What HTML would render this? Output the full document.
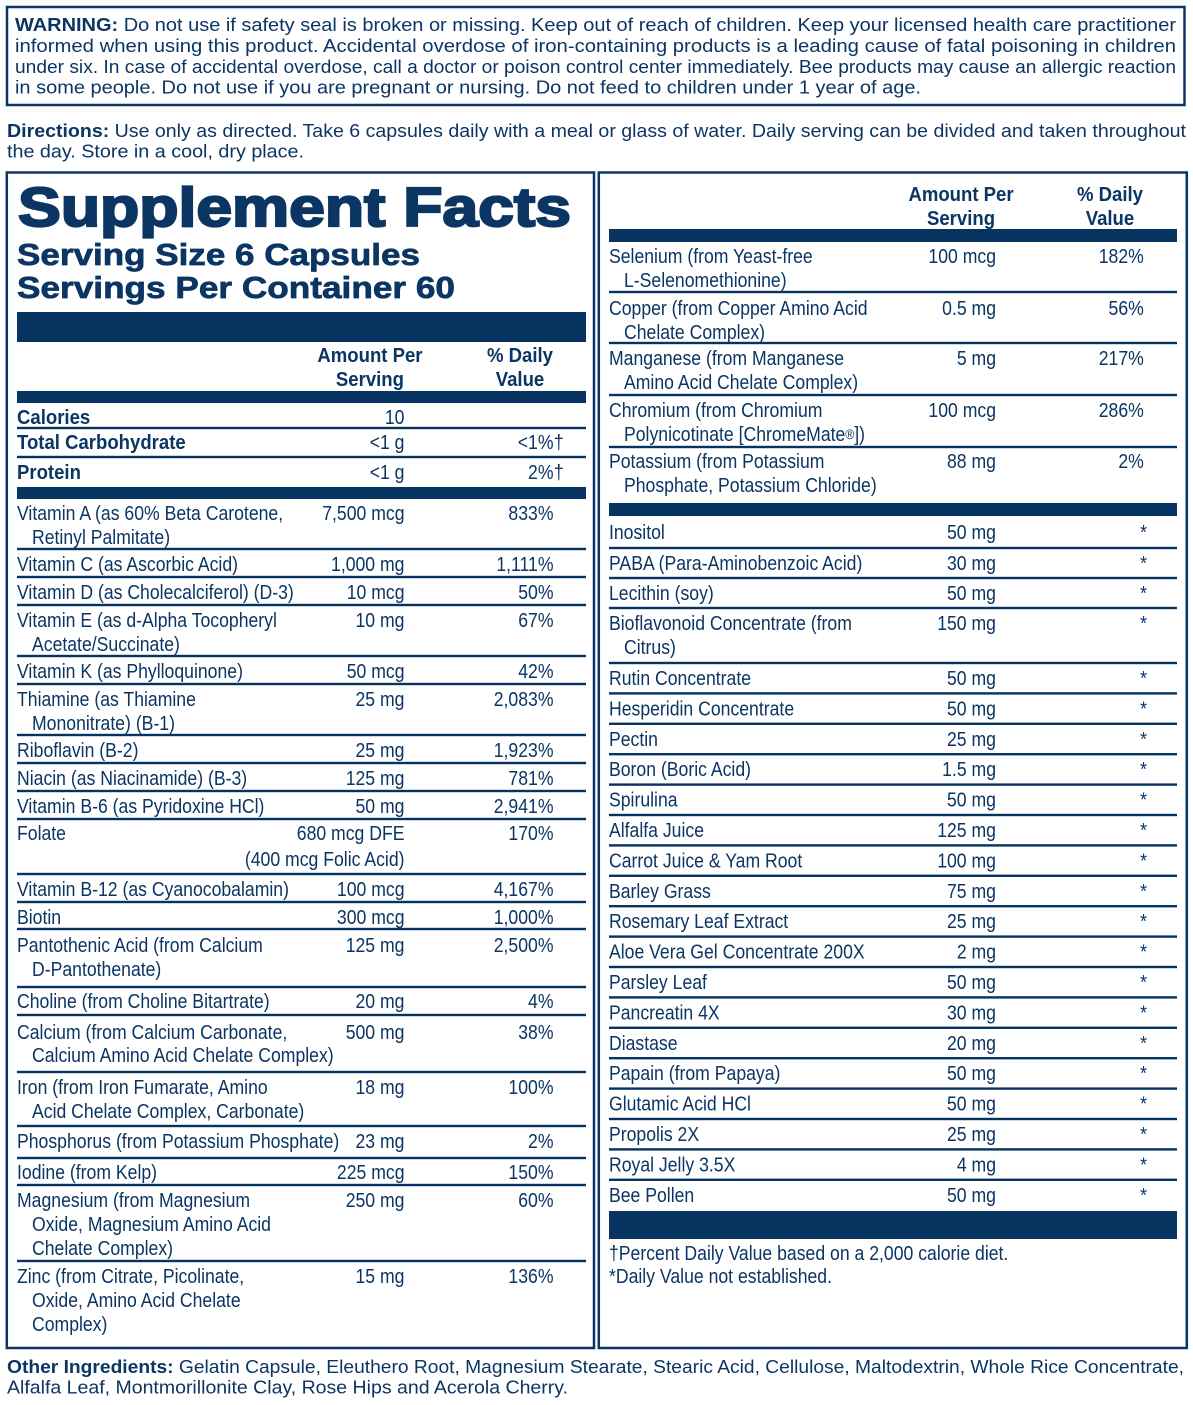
<!DOCTYPE html>
<html>
<head>
<meta charset="utf-8">
<style>
html,body{margin:0;padding:0;background:#fff;}
svg{display:block;}
text{font-family:"Liberation Sans",Arial,sans-serif;fill:#0b3563;}
.p{font-size:18px;}
.t{font-size:20.5px;}
.b{font-weight:bold;}
</style>
</head>
<body>
<svg width="1193" height="1405" viewBox="0 0 1193 1405" xmlns="http://www.w3.org/2000/svg">
<rect x="0" y="0" width="1193" height="1405" fill="#fff"/>

<!-- Warning box -->
<rect x="7" y="7" width="1177.5" height="98" fill="none" stroke="#0b3563" stroke-width="2.5"/>
<text class="p" x="15" y="31" textLength="1161" lengthAdjust="spacingAndGlyphs"><tspan class="b">WARNING:</tspan> Do not use if safety seal is broken or missing. Keep out of reach of children. Keep your licensed health care practitioner</text>
<text class="p" x="15" y="52" textLength="1161" lengthAdjust="spacingAndGlyphs">informed when using this product. Accidental overdose of iron-containing products is a leading cause of fatal poisoning in children</text>
<text class="p" x="15" y="73" textLength="1161" lengthAdjust="spacingAndGlyphs">under six.  In case of accidental overdose, call a doctor or poison control center immediately. Bee products may cause an allergic reaction</text>
<text class="p" x="15" y="93.5" textLength="906" lengthAdjust="spacingAndGlyphs">in some people. Do not use if you are pregnant or nursing. Do not feed to children under 1 year of age.</text>

<!-- Directions -->
<text class="p" x="7" y="137" textLength="1179" lengthAdjust="spacingAndGlyphs"><tspan class="b">Directions:</tspan> Use only as directed. Take 6 capsules daily with a meal or glass of water. Daily serving can be divided and taken throughout</text>
<text class="p" x="7" y="157.5" textLength="297" lengthAdjust="spacingAndGlyphs">the day. Store in a cool, dry place.</text>

<!-- Panels -->
<rect x="6.8" y="172.5" width="587.2" height="1175.5" fill="none" stroke="#0b3563" stroke-width="2.5"/>
<rect x="598.8" y="172.5" width="588" height="1175.5" fill="none" stroke="#0b3563" stroke-width="2.5"/>

<!-- Left title -->
<text x="18" y="226" font-size="55" font-weight="bold" stroke="#0b3563" stroke-width="2.2" textLength="553" lengthAdjust="spacingAndGlyphs">Supplement Facts</text>
<text x="17" y="265" font-size="31" font-weight="bold" stroke="#0b3563" stroke-width="0.7" textLength="403" lengthAdjust="spacingAndGlyphs">Serving Size 6 Capsules</text>
<text x="17" y="298" font-size="31" font-weight="bold" stroke="#0b3563" stroke-width="0.7" textLength="438" lengthAdjust="spacingAndGlyphs">Servings Per Container 60</text>

<!-- Bars and rules (fill) -->
<g fill="#06335f">
  <!-- left -->
  <rect x="17" y="312" width="569" height="30"/>
  <rect x="17" y="391" width="569" height="12"/>
  <rect x="17" y="487" width="569" height="12"/>
  <rect x="17" y="426.8" width="569" height="2.4"/>
  <rect x="17" y="455.8" width="569" height="2.4"/>
  <rect x="17" y="547.8" width="569" height="2.4"/>
  <rect x="17" y="575.8" width="569" height="2.4"/>
  <rect x="17" y="603.8" width="569" height="2.4"/>
  <rect x="17" y="654.8" width="569" height="2.4"/>
  <rect x="17" y="682.8" width="569" height="2.4"/>
  <rect x="17" y="733.8" width="569" height="2.4"/>
  <rect x="17" y="761.8" width="569" height="2.4"/>
  <rect x="17" y="789.8" width="569" height="2.4"/>
  <rect x="17" y="817.8" width="569" height="2.4"/>
  <rect x="17" y="872.8" width="569" height="2.4"/>
  <rect x="17" y="900.8" width="569" height="2.4"/>
  <rect x="17" y="927.8" width="569" height="2.4"/>
  <rect x="17" y="985.8" width="569" height="2.4"/>
  <rect x="17" y="1013.8" width="569" height="2.4"/>
  <rect x="17" y="1070.8" width="569" height="2.4"/>
  <rect x="17" y="1124.8" width="569" height="2.4"/>
  <rect x="17" y="1156.8" width="569" height="2.4"/>
  <rect x="17" y="1183.8" width="569" height="2.4"/>
  <rect x="17" y="1259.8" width="569" height="2.4"/>
  <!-- right -->
  <rect x="609" y="229" width="568" height="13"/>
  <rect x="609" y="503" width="568" height="13"/>
  <rect x="609" y="1211" width="568" height="28"/>
  <rect x="609" y="290.8" width="568" height="2.4"/>
  <rect x="609" y="341.8" width="568" height="2.4"/>
  <rect x="609" y="393.8" width="568" height="2.4"/>
  <rect x="609" y="445.8" width="568" height="2.4"/>
  <rect x="609" y="546.8" width="568" height="2.4"/>
  <rect x="609" y="576.8" width="568" height="2.4"/>
  <rect x="609" y="606.8" width="568" height="2.4"/>
  <rect x="609" y="661.8" width="568" height="2.4"/>
  <rect x="609" y="692.2" width="568" height="2.4"/>
  <rect x="609" y="722.6" width="568" height="2.4"/>
  <rect x="609" y="753" width="568" height="2.4"/>
  <rect x="609" y="783.4" width="568" height="2.4"/>
  <rect x="609" y="813.8" width="568" height="2.4"/>
  <rect x="609" y="844.2" width="568" height="2.4"/>
  <rect x="609" y="874.6" width="568" height="2.4"/>
  <rect x="609" y="905" width="568" height="2.4"/>
  <rect x="609" y="935.4" width="568" height="2.4"/>
  <rect x="609" y="965.8" width="568" height="2.4"/>
  <rect x="609" y="996.2" width="568" height="2.4"/>
  <rect x="609" y="1026.6" width="568" height="2.4"/>
  <rect x="609" y="1057" width="568" height="2.4"/>
  <rect x="609" y="1087.4" width="568" height="2.4"/>
  <rect x="609" y="1117.8" width="568" height="2.4"/>
  <rect x="609" y="1148.2" width="568" height="2.4"/>
  <rect x="609" y="1178.6" width="568" height="2.4"/>
</g>

<!-- Bold condensed text -->
<g transform="scale(0.905,1)">
  <text class="t b" x="408.8" y="362" text-anchor="middle">Amount Per</text>
  <text class="t b" x="408.8" y="386" text-anchor="middle">Serving</text>
  <text class="t b" x="574.6" y="362" text-anchor="middle">% Daily</text>
  <text class="t b" x="574.6" y="386" text-anchor="middle">Value</text>
  <text class="t b" x="1061.9" y="201" text-anchor="middle">Amount Per</text>
  <text class="t b" x="1061.9" y="225" text-anchor="middle">Serving</text>
  <text class="t b" x="1226.5" y="201" text-anchor="middle">% Daily</text>
  <text class="t b" x="1226.5" y="225" text-anchor="middle">Value</text>
  <text class="t b" x="18.8" y="424">Calories</text>
  <text class="t b" x="18.8" y="449">Total Carbohydrate</text>
  <text class="t b" x="18.8" y="479">Protein</text>
</g>

<!-- Regular condensed text -->
<g transform="scale(0.86,1)" class="t">
  <text class="t" x="470.35" y="424" text-anchor="end">10</text>
  <text class="t" x="470.35" y="449" text-anchor="end">&lt;1 g</text>
  <text class="t" x="643.6" y="449" text-anchor="end">&lt;1%</text>
  <text class="t" x="644" y="449">†</text>
  <text class="t" x="470.35" y="479" text-anchor="end">&lt;1 g</text>
  <text class="t" x="643.6" y="479" text-anchor="end">2%</text>
  <text class="t" x="644" y="479">†</text>

  <text class="t" x="19.77" y="520">Vitamin A (as 60% Beta Carotene,</text>
  <text class="t" x="37.21" y="544">Retinyl Palmitate)</text>
  <text class="t" x="470.35" y="520" text-anchor="end">7,500 mcg</text>
  <text class="t" x="643.6" y="520" text-anchor="end">833%</text>

  <text class="t" x="19.77" y="571">Vitamin C (as Ascorbic Acid)</text>
  <text class="t" x="470.35" y="571" text-anchor="end">1,000 mg</text>
  <text class="t" x="643.6" y="571" text-anchor="end">1,111%</text>

  <text class="t" x="19.77" y="599">Vitamin D (as Cholecalciferol) (D-3)</text>
  <text class="t" x="470.35" y="599" text-anchor="end">10 mcg</text>
  <text class="t" x="643.6" y="599" text-anchor="end">50%</text>

  <text class="t" x="19.77" y="627">Vitamin E (as d-Alpha Tocopheryl</text>
  <text class="t" x="37.21" y="651">Acetate/Succinate)</text>
  <text class="t" x="470.35" y="627" text-anchor="end">10 mg</text>
  <text class="t" x="643.6" y="627" text-anchor="end">67%</text>

  <text class="t" x="19.77" y="678">Vitamin K (as Phylloquinone)</text>
  <text class="t" x="470.35" y="678" text-anchor="end">50 mcg</text>
  <text class="t" x="643.6" y="678" text-anchor="end">42%</text>

  <text class="t" x="19.77" y="706">Thiamine (as Thiamine</text>
  <text class="t" x="37.21" y="730">Mononitrate) (B-1)</text>
  <text class="t" x="470.35" y="706" text-anchor="end">25 mg</text>
  <text class="t" x="643.6" y="706" text-anchor="end">2,083%</text>

  <text class="t" x="19.77" y="757">Riboflavin (B-2)</text>
  <text class="t" x="470.35" y="757" text-anchor="end">25 mg</text>
  <text class="t" x="643.6" y="757" text-anchor="end">1,923%</text>

  <text class="t" x="19.77" y="785">Niacin (as Niacinamide) (B-3)</text>
  <text class="t" x="470.35" y="785" text-anchor="end">125 mg</text>
  <text class="t" x="643.6" y="785" text-anchor="end">781%</text>

  <text class="t" x="19.77" y="813">Vitamin B-6 (as Pyridoxine HCl)</text>
  <text class="t" x="470.35" y="813" text-anchor="end">50 mg</text>
  <text class="t" x="643.6" y="813" text-anchor="end">2,941%</text>

  <text class="t" x="19.77" y="840">Folate</text>
  <text class="t" x="470.35" y="840" text-anchor="end">680 mcg DFE</text>
  <text class="t" x="470.35" y="866" text-anchor="end">(400 mcg Folic Acid)</text>
  <text class="t" x="643.6" y="840" text-anchor="end">170%</text>

  <text class="t" x="19.77" y="896">Vitamin B-12 (as Cyanocobalamin)</text>
  <text class="t" x="470.35" y="896" text-anchor="end">100 mcg</text>
  <text class="t" x="643.6" y="896" text-anchor="end">4,167%</text>

  <text class="t" x="19.77" y="924">Biotin</text>
  <text class="t" x="470.35" y="924" text-anchor="end">300 mcg</text>
  <text class="t" x="643.6" y="924" text-anchor="end">1,000%</text>

  <text class="t" x="19.77" y="952">Pantothenic Acid (from Calcium</text>
  <text class="t" x="37.21" y="976">D-Pantothenate)</text>
  <text class="t" x="470.35" y="952" text-anchor="end">125 mg</text>
  <text class="t" x="643.6" y="952" text-anchor="end">2,500%</text>

  <text class="t" x="19.77" y="1008">Choline (from Choline Bitartrate)</text>
  <text class="t" x="470.35" y="1008" text-anchor="end">20 mg</text>
  <text class="t" x="643.6" y="1008" text-anchor="end">4%</text>

  <text class="t" x="19.77" y="1039">Calcium (from Calcium Carbonate,</text>
  <text class="t" x="37.21" y="1062">Calcium Amino Acid Chelate Complex)</text>
  <text class="t" x="470.35" y="1039" text-anchor="end">500 mg</text>
  <text class="t" x="643.6" y="1039" text-anchor="end">38%</text>

  <text class="t" x="19.77" y="1094">Iron (from Iron Fumarate, Amino</text>
  <text class="t" x="37.21" y="1118">Acid Chelate Complex, Carbonate)</text>
  <text class="t" x="470.35" y="1094" text-anchor="end">18 mg</text>
  <text class="t" x="643.6" y="1094" text-anchor="end">100%</text>

  <text class="t" x="19.77" y="1148">Phosphorus (from Potassium Phosphate)</text>
  <text class="t" x="470.35" y="1148" text-anchor="end">23 mg</text>
  <text class="t" x="643.6" y="1148" text-anchor="end">2%</text>

  <text class="t" x="19.77" y="1179">Iodine (from Kelp)</text>
  <text class="t" x="470.35" y="1179" text-anchor="end">225 mcg</text>
  <text class="t" x="643.6" y="1179" text-anchor="end">150%</text>

  <text class="t" x="19.77" y="1207">Magnesium (from Magnesium</text>
  <text class="t" x="37.21" y="1231">Oxide, Magnesium Amino Acid</text>
  <text class="t" x="37.21" y="1255">Chelate Complex)</text>
  <text class="t" x="470.35" y="1207" text-anchor="end">250 mg</text>
  <text class="t" x="643.6" y="1207" text-anchor="end">60%</text>

  <text class="t" x="19.77" y="1283">Zinc (from Citrate, Picolinate,</text>
  <text class="t" x="37.21" y="1307">Oxide, Amino Acid Chelate</text>
  <text class="t" x="37.21" y="1331">Complex)</text>
  <text class="t" x="470.35" y="1283" text-anchor="end">15 mg</text>
  <text class="t" x="643.6" y="1283" text-anchor="end">136%</text>

  <text class="t" x="708.14" y="263">Selenium (from Yeast-free</text>
  <text class="t" x="725.58" y="287">L-Selenomethionine)</text>
  <text class="t" x="1158.14" y="263" text-anchor="end">100 mcg</text>
  <text class="t" x="1330" y="263" text-anchor="end">182%</text>

  <text class="t" x="708.14" y="315">Copper (from Copper Amino Acid</text>
  <text class="t" x="725.58" y="339">Chelate Complex)</text>
  <text class="t" x="1158.14" y="315" text-anchor="end">0.5 mg</text>
  <text class="t" x="1330" y="315" text-anchor="end">56%</text>

  <text class="t" x="708.14" y="365">Manganese (from Manganese</text>
  <text class="t" x="725.58" y="389">Amino Acid Chelate Complex)</text>
  <text class="t" x="1158.14" y="365" text-anchor="end">5 mg</text>
  <text class="t" x="1330" y="365" text-anchor="end">217%</text>

  <text class="t" x="708.14" y="417">Chromium (from Chromium</text>
  <text class="t" x="725.58" y="441">Polynicotinate [ChromeMate<tspan font-size="14" dy="-2">®</tspan><tspan dy="2">])</tspan></text>
  <text class="t" x="1158.14" y="417" text-anchor="end">100 mcg</text>
  <text class="t" x="1330" y="417" text-anchor="end">286%</text>

  <text class="t" x="708.14" y="468">Potassium (from Potassium</text>
  <text class="t" x="725.58" y="492">Phosphate, Potassium Chloride)</text>
  <text class="t" x="1158.14" y="468" text-anchor="end">88 mg</text>
  <text class="t" x="1330" y="468" text-anchor="end">2%</text>

  <text class="t" x="708.14" y="539">Inositol</text>
  <text class="t" x="1158.14" y="539" text-anchor="end">50 mg</text>
  <text class="t" x="1333.7" y="539" text-anchor="end">*</text>

  <text class="t" x="708.14" y="570">PABA (Para-Aminobenzoic Acid)</text>
  <text class="t" x="1158.14" y="570" text-anchor="end">30 mg</text>
  <text class="t" x="1333.7" y="570" text-anchor="end">*</text>

  <text class="t" x="708.14" y="600">Lecithin (soy)</text>
  <text class="t" x="1158.14" y="600" text-anchor="end">50 mg</text>
  <text class="t" x="1333.7" y="600" text-anchor="end">*</text>

  <text class="t" x="708.14" y="630">Bioflavonoid Concentrate (from</text>
  <text class="t" x="725.58" y="654">Citrus)</text>
  <text class="t" x="1158.14" y="630" text-anchor="end">150 mg</text>
  <text class="t" x="1333.7" y="630" text-anchor="end">*</text>

  <text class="t" x="708.14" y="685">Rutin Concentrate</text>
  <text class="t" x="1158.14" y="685" text-anchor="end">50 mg</text>
  <text class="t" x="1333.7" y="685" text-anchor="end">*</text>

  <text class="t" x="708.14" y="715.4">Hesperidin Concentrate</text>
  <text class="t" x="1158.14" y="715.4" text-anchor="end">50 mg</text>
  <text class="t" x="1333.7" y="715.4" text-anchor="end">*</text>

  <text class="t" x="708.14" y="745.8">Pectin</text>
  <text class="t" x="1158.14" y="745.8" text-anchor="end">25 mg</text>
  <text class="t" x="1333.7" y="745.8" text-anchor="end">*</text>

  <text class="t" x="708.14" y="776.2">Boron (Boric Acid)</text>
  <text class="t" x="1158.14" y="776.2" text-anchor="end">1.5 mg</text>
  <text class="t" x="1333.7" y="776.2" text-anchor="end">*</text>

  <text class="t" x="708.14" y="806.6">Spirulina</text>
  <text class="t" x="1158.14" y="806.6" text-anchor="end">50 mg</text>
  <text class="t" x="1333.7" y="806.6" text-anchor="end">*</text>

  <text class="t" x="708.14" y="837">Alfalfa Juice</text>
  <text class="t" x="1158.14" y="837" text-anchor="end">125 mg</text>
  <text class="t" x="1333.7" y="837" text-anchor="end">*</text>

  <text class="t" x="708.14" y="867.4">Carrot Juice &amp; Yam Root</text>
  <text class="t" x="1158.14" y="867.4" text-anchor="end">100 mg</text>
  <text class="t" x="1333.7" y="867.4" text-anchor="end">*</text>

  <text class="t" x="708.14" y="897.8">Barley Grass</text>
  <text class="t" x="1158.14" y="897.8" text-anchor="end">75 mg</text>
  <text class="t" x="1333.7" y="897.8" text-anchor="end">*</text>

  <text class="t" x="708.14" y="928.2">Rosemary Leaf Extract</text>
  <text class="t" x="1158.14" y="928.2" text-anchor="end">25 mg</text>
  <text class="t" x="1333.7" y="928.2" text-anchor="end">*</text>

  <text class="t" x="708.14" y="958.6">Aloe Vera Gel Concentrate 200X</text>
  <text class="t" x="1158.14" y="958.6" text-anchor="end">2 mg</text>
  <text class="t" x="1333.7" y="958.6" text-anchor="end">*</text>

  <text class="t" x="708.14" y="989">Parsley Leaf</text>
  <text class="t" x="1158.14" y="989" text-anchor="end">50 mg</text>
  <text class="t" x="1333.7" y="989" text-anchor="end">*</text>

  <text class="t" x="708.14" y="1019.4">Pancreatin 4X</text>
  <text class="t" x="1158.14" y="1019.4" text-anchor="end">30 mg</text>
  <text class="t" x="1333.7" y="1019.4" text-anchor="end">*</text>

  <text class="t" x="708.14" y="1049.8">Diastase</text>
  <text class="t" x="1158.14" y="1049.8" text-anchor="end">20 mg</text>
  <text class="t" x="1333.7" y="1049.8" text-anchor="end">*</text>

  <text class="t" x="708.14" y="1080.2">Papain (from Papaya)</text>
  <text class="t" x="1158.14" y="1080.2" text-anchor="end">50 mg</text>
  <text class="t" x="1333.7" y="1080.2" text-anchor="end">*</text>

  <text class="t" x="708.14" y="1110.6">Glutamic Acid HCl</text>
  <text class="t" x="1158.14" y="1110.6" text-anchor="end">50 mg</text>
  <text class="t" x="1333.7" y="1110.6" text-anchor="end">*</text>

  <text class="t" x="708.14" y="1141">Propolis 2X</text>
  <text class="t" x="1158.14" y="1141" text-anchor="end">25 mg</text>
  <text class="t" x="1333.7" y="1141" text-anchor="end">*</text>

  <text class="t" x="708.14" y="1171.4">Royal Jelly 3.5X</text>
  <text class="t" x="1158.14" y="1171.4" text-anchor="end">4 mg</text>
  <text class="t" x="1333.7" y="1171.4" text-anchor="end">*</text>

  <text class="t" x="708.14" y="1201.8">Bee Pollen</text>
  <text class="t" x="1158.14" y="1201.8" text-anchor="end">50 mg</text>
  <text class="t" x="1333.7" y="1201.8" text-anchor="end">*</text>

  <text class="t" x="708.14" y="1260">†Percent Daily Value based on a 2,000 calorie diet.</text>
  <text class="t" x="708.14" y="1283">*Daily Value not established.</text>
</g>

<!-- Other Ingredients -->
<text class="p" x="7" y="1373" textLength="1177" lengthAdjust="spacingAndGlyphs"><tspan class="b">Other Ingredients:</tspan> Gelatin Capsule, Eleuthero Root, Magnesium Stearate, Stearic Acid, Cellulose, Maltodextrin, Whole Rice Concentrate,</text>
<text class="p" x="7" y="1393.5" textLength="561" lengthAdjust="spacingAndGlyphs">Alfalfa Leaf, Montmorillonite Clay, Rose Hips and Acerola Cherry.</text>
</svg>
</body>
</html>
